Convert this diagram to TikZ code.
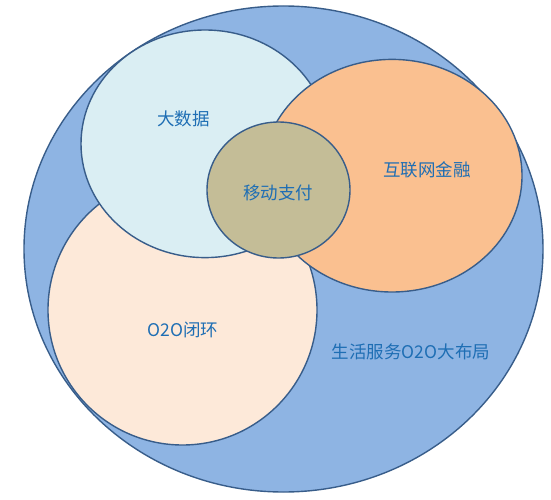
\documentclass[tikz,border=0pt]{standalone}
\usepackage{fontspec}
\newfontfamily\cjk{Noto Sans CJK SC}
\definecolor{rimblue}{RGB}{56,93,138}
\definecolor{outerblue}{RGB}{142,180,227}
\definecolor{datablue}{RGB}{218,238,243}
\definecolor{finorange}{RGB}{250,192,144}
\definecolor{oopeach}{RGB}{253,233,217}
\definecolor{paykhaki}{RGB}{196,189,151}
\definecolor{labelblue}{RGB}{30,110,180}
\tikzset{
  area/.style={draw=rimblue, line width=1.4pt},
  tag/.style={font=\cjk\fontsize{17.5}{20}\selectfont, text=labelblue, inner sep=0pt}
}
\begin{document}
\begin{tikzpicture}[x=1pt, y=-1pt] % {{{
\useasboundingbox (0,0) rectangle (551,500);
% Flaechen {{{
\draw[area, fill=outerblue] (283.5,249) ellipse (259.5 and 243);
\draw[area, fill=oopeach] (182.5,310) ellipse (134.5 and 135);
\draw[area, fill=datablue] (205,143.8) ellipse (124 and 113.8);
\draw[area, fill=finorange] (392,175.7) ellipse (130 and 116.3);
\draw[area, fill=paykhaki] (278.5,190) ellipse (71.5 and 68);
% }}}
% Beschriftung {{{
\node[tag] (bigdata) at (183.5,119) {大数据};
\node[tag] (finance) at (427,170) {互联网金融};
\node[tag] (payment) at (278,193) {移动支付};
\node[tag] (closedloop) at (183,330) {O2O闭环};
\node[tag] (lifeservice) at (411,352) {生活服务O2O大布局};
% }}}
\end{tikzpicture} % }}}
\end{document}
